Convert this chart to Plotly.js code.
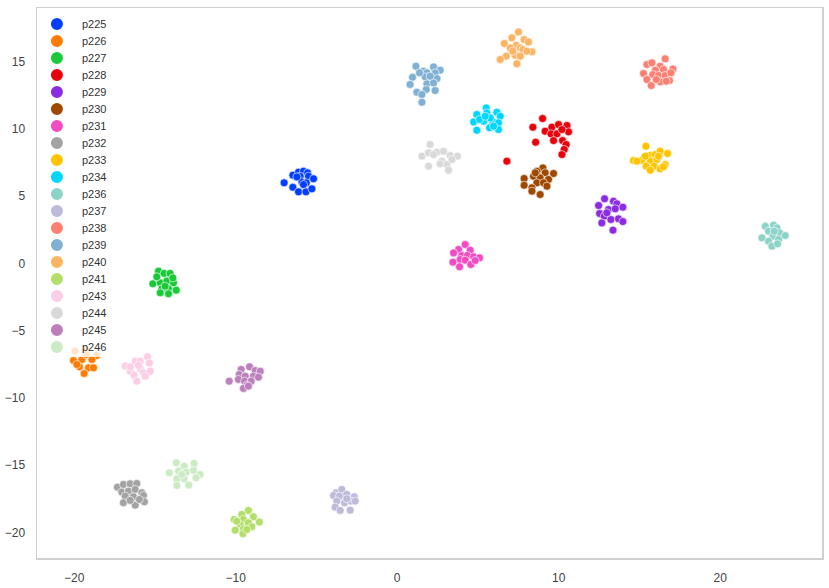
<!DOCTYPE html>
<html>
<head>
<meta charset="utf-8">
<script src="https://cdn.plot.ly/plotly-3.0.1.min.js"></script>
<style>
  html, body { margin:0; padding:0; background:#fff; }
  #chart { width:829px; height:588px; }
</style>
</head>
<body>
<div id="chart"></div>
<script>
// t-SNE embedding per speaker
const x225 = [-7.00,-6.46,-6.11,-5.80,-5.55,-6.01,-5.49,-5.18,-6.46,-5.90,-5.63,-6.11,-5.65,-5.28,-6.21,-5.80];
const y225 = [6.00,6.57,6.79,6.86,6.74,6.49,6.49,6.30,5.67,6.07,6.00,5.33,5.33,5.55,6.44,5.87];
const x226 = [-19.94,-19.32,-18.60,-20.04,-19.52,-18.90,-19.67,-19.11,-18.80,-19.38,-19.83,-19.26];
const y226 = [-6.52,-6.39,-6.84,-7.21,-7.14,-7.14,-7.68,-7.76,-7.76,-8.18,-7.51,-6.77];
const x227 = [-14.78,-14.43,-14.06,-15.13,-14.67,-14.26,-13.85,-14.88,-14.57,-14.16,-13.68,-13.89,-14.37,-14.67,-14.16];
const y227 = [-0.57,-0.74,-0.74,-1.51,-1.44,-1.31,-1.44,-0.99,-1.88,-1.88,-1.98,-1.07,-1.69,-2.18,-2.25];
const x228 = [9.00,8.40,9.16,9.58,9.99,10.51,9.52,9.89,10.61,10.20,8.57,9.68,10.24,10.46,10.34,10.20,6.79];
const y228 = [10.78,10.14,9.84,10.14,10.33,10.26,9.64,9.64,9.79,9.96,9.02,9.14,9.14,8.85,8.48,8.10,7.61];
const x229 = [12.84,12.47,13.39,13.60,13.97,13.08,12.53,12.82,13.50,13.23,13.70,13.97,12.67,13.36,12.98];
const y229 = [4.81,4.31,4.63,4.44,4.19,4.01,3.72,3.52,4.07,3.27,3.32,3.12,3.02,2.48,3.77];
const x230 = [9.02,8.65,9.16,9.68,8.44,8.85,9.37,7.86,8.65,9.06,7.86,8.34,9.27,8.34,8.85,8.55];
const y230 = [7.11,6.86,6.74,6.69,6.49,6.37,6.25,6.32,6.00,6.00,5.82,5.63,5.75,5.38,5.13,6.74];
const x231 = [4.21,3.80,4.52,3.49,4.00,4.35,4.73,5.10,3.90,4.21,3.45,4.56,3.86,4.83];
const y231 = [1.41,1.04,0.99,0.79,0.59,0.59,0.50,0.42,0.30,0.25,0.10,-0.07,-0.25,0.22];
const x232 = [-17.32,-16.95,-16.53,-16.12,-17.05,-16.64,-16.22,-15.81,-16.84,-16.33,-15.71,-16.95,-16.22,-15.65,-15.96,-16.53];
const y232 = [-16.63,-16.43,-16.38,-16.36,-17.00,-16.93,-16.80,-17.05,-17.30,-17.35,-17.25,-17.79,-17.97,-17.72,-17.55,-17.62];
const x233 = [15.40,14.63,15.15,15.67,15.98,16.28,16.74,15.67,16.08,16.18,14.84,15.42,15.91,16.59,15.67,16.28,16.49,15.36];
const y233 = [8.72,7.66,7.68,8.03,8.10,8.35,8.18,7.61,7.73,7.98,7.61,7.24,7.24,7.36,6.94,7.04,7.19,7.98];
const x234 = [5.51,4.93,5.55,6.17,6.38,4.73,5.35,5.92,6.27,5.10,5.76,4.93,5.72,6.27,5.97,5.45];
const y234 = [11.57,11.08,11.20,11.25,10.95,10.53,10.58,10.53,10.46,10.71,10.83,9.91,10.09,9.96,10.21,10.95];
const x236 = [22.79,23.30,23.51,22.99,22.58,23.26,23.67,24.02,22.99,23.61,23.20,23.55,23.34];
const y236 = [2.77,2.85,2.65,2.40,1.91,2.03,2.28,2.08,1.66,1.78,1.29,1.46,2.40];
const x237 = [-3.78,-3.43,-3.94,-3.57,-3.12,-2.66,-3.74,-3.26,-2.87,-2.60,-3.84,-3.53,-2.91,-3.12];
const y237 = [-17.05,-16.80,-17.25,-17.30,-17.17,-17.35,-17.67,-17.79,-17.67,-17.67,-18.12,-18.36,-18.34,-17.49];
const x238 = [16.59,15.46,15.77,16.28,15.25,15.98,16.49,17.07,15.83,16.18,16.59,16.95,15.46,16.28,16.86,15.73,16.04,16.66];
const y238 = [15.22,14.80,14.92,14.67,14.13,14.37,14.42,14.47,14.05,13.98,13.98,14.18,13.68,13.51,13.61,13.23,13.68,13.56];
const x239 = [1.16,1.63,2.25,2.66,0.95,1.84,2.35,1.73,2.46,0.80,1.84,2.25,1.22,1.80,2.35,1.53,1.53,2.04,1.38];
const y239 = [14.67,14.30,14.62,14.37,13.85,14.18,14.18,13.88,13.75,13.31,13.36,13.43,12.74,12.94,12.86,12.57,11.99,13.93,14.18];
const x240 = [7.51,7.10,7.86,8.13,6.63,7.37,7.62,7.00,8.34,7.78,6.75,7.31,7.62,6.38,7.41,8.03,7.16];
const y240 = [17.22,16.78,16.65,16.48,16.36,16.23,16.03,16.03,15.74,15.91,15.42,15.49,15.42,15.17,14.85,15.79,15.79];
const x241 = [-9.21,-9.62,-10.09,-9.52,-8.90,-9.72,-9.21,-8.53,-10.03,-9.52,-9.00,-9.55,-9.93,-9.31];
const y241 = [-18.36,-18.66,-19.03,-19.03,-18.83,-19.41,-19.28,-19.23,-19.83,-19.73,-19.58,-20.10,-19.16,-19.78];
const x243 = [-16.84,-16.22,-15.91,-15.46,-16.53,-15.91,-15.34,-16.28,-15.71,-15.29,-16.12,-15.60,-16.53,-16.02];
const y243 = [-7.63,-7.26,-7.26,-6.94,-8.01,-7.83,-7.39,-8.33,-8.13,-8.01,-8.75,-8.38,-7.68,-7.58];
const x244 = [2.04,1.53,1.94,2.46,2.87,3.28,3.73,2.77,3.39,3.08,1.94,2.66,3.18,2.25];
const y244 = [8.85,7.98,8.23,8.28,8.35,8.03,7.98,7.61,7.73,7.36,7.24,7.41,6.94,8.10];
const x245 = [-10.40,-9.66,-9.14,-8.79,-8.48,-9.78,-9.41,-8.90,-8.59,-9.83,-9.45,-9.04,-9.31,-9.52,-9.21];
const y245 = [-8.75,-7.88,-7.68,-7.96,-8.01,-8.25,-8.38,-8.38,-8.45,-8.62,-8.75,-8.75,-9.05,-9.29,-9.12];
const x246 = [-13.68,-13.19,-12.57,-14.10,-13.54,-13.07,-12.61,-12.20,-13.64,-13.19,-12.45,-13.64,-12.90,-13.33];
const y246 = [-14.82,-15.07,-14.87,-15.56,-15.44,-15.52,-15.37,-15.69,-16.01,-16.01,-15.93,-16.51,-16.48,-15.69];

const speakers = ["p225","p226","p227","p228","p229","p230","p231","p232","p233","p234",
                  "p236","p237","p238","p239","p240","p241","p243","p244","p245","p246"];
const xVals = [x225,x226,x227,x228,x229,x230,x231,x232,x233,x234,x236,x237,x238,x239,x240,x241,x243,x244,x245,x246];
const yVals = [y225,y226,y227,y228,y229,y230,y231,y232,y233,y234,y236,y237,y238,y239,y240,y241,y243,y244,y245,y246];
const colors = ["#023eff","#ff7c00","#1ac938","#e8000b","#8b2be2","#9f4800","#f14cc1","#a3a3a3","#ffc400","#00d7ff",
                "#8dd3c7","#bebada","#fb8072","#80b1d3","#fdb462","#b3de69","#fccde5","#d9d9d9","#bc80bd","#ccebc5"];

const traces = speakers.map((name, i) => ({
  x: xVals[i], y: yVals[i], name,
  type: "scatter", mode: "markers",
  marker: { color: colors[i], size: 8, line: { color: "#fff", width: 0.6 } }
}));

const axisStyle = {
  showgrid: false, zeroline: false,
  showline: true, mirror: true, linecolor: "#d0d0d0", linewidth: 1.5,
  ticks: "", ticklabelstandoff: 8,
  tickfont: { family: "Liberation Sans, Arial, sans-serif", size: 12, color: "#444" }
};

Plotly.newPlot("chart", traces, {
  width: 829, height: 588,
  margin: { t: 8, r: 7, b: 30, l: 37 },
  paper_bgcolor: "#fff", plot_bgcolor: "#fff",
  showlegend: true,
  legend: {
    x: 0.005, y: 0.99, xanchor: "left", yanchor: "top",
    bgcolor: "rgba(255,255,255,0.8)", borderwidth: 0,
    itemsizing: "constant",
    font: { family: "Liberation Sans, Arial, sans-serif", size: 11, color: "#333" }
  },
  xaxis: { ...axisStyle, range: [-22.3, 26.3], tickvals: [-20,-10,0,10,20] },
  yaxis: { ...axisStyle, range: [-21.9, 19.0], tickvals: [-20,-15,-10,-5,0,5,10,15] }
}, { displayModeBar: false, staticPlot: true }).then(gd => {
  // plotly won't go below 19px per legend row; tighten to ~17px and use bigger dots like the original
  const items = gd.querySelectorAll(".legend .traces");
  const parse = g => g.getAttribute("transform").match(/translate\(([-\d.]+)[ ,]+([-\d.]+)\)/);
  const y0 = +parse(items[0])[2] - 4;
  let lastY = y0;
  items.forEach((g, i) => {
    const m = parse(g);
    lastY = y0 + i * 17;
    g.setAttribute("transform", `translate(${+m[1] - 4},${lastY})`);
    const t = g.querySelector("text.legendtext");
    if (t) t.setAttribute("x", 45);
  });
  gd.querySelectorAll(".legend .legendpoints path").forEach(p =>
    p.setAttribute("d", "M7,0A7,7 0 1,1 0,-7A7,7 0 0,1 7,0Z"));
  const bg = gd.querySelector(".legend rect.bg");
  if (bg) bg.setAttribute("height", lastY + 10);
});
</script>
</body>
</html>
